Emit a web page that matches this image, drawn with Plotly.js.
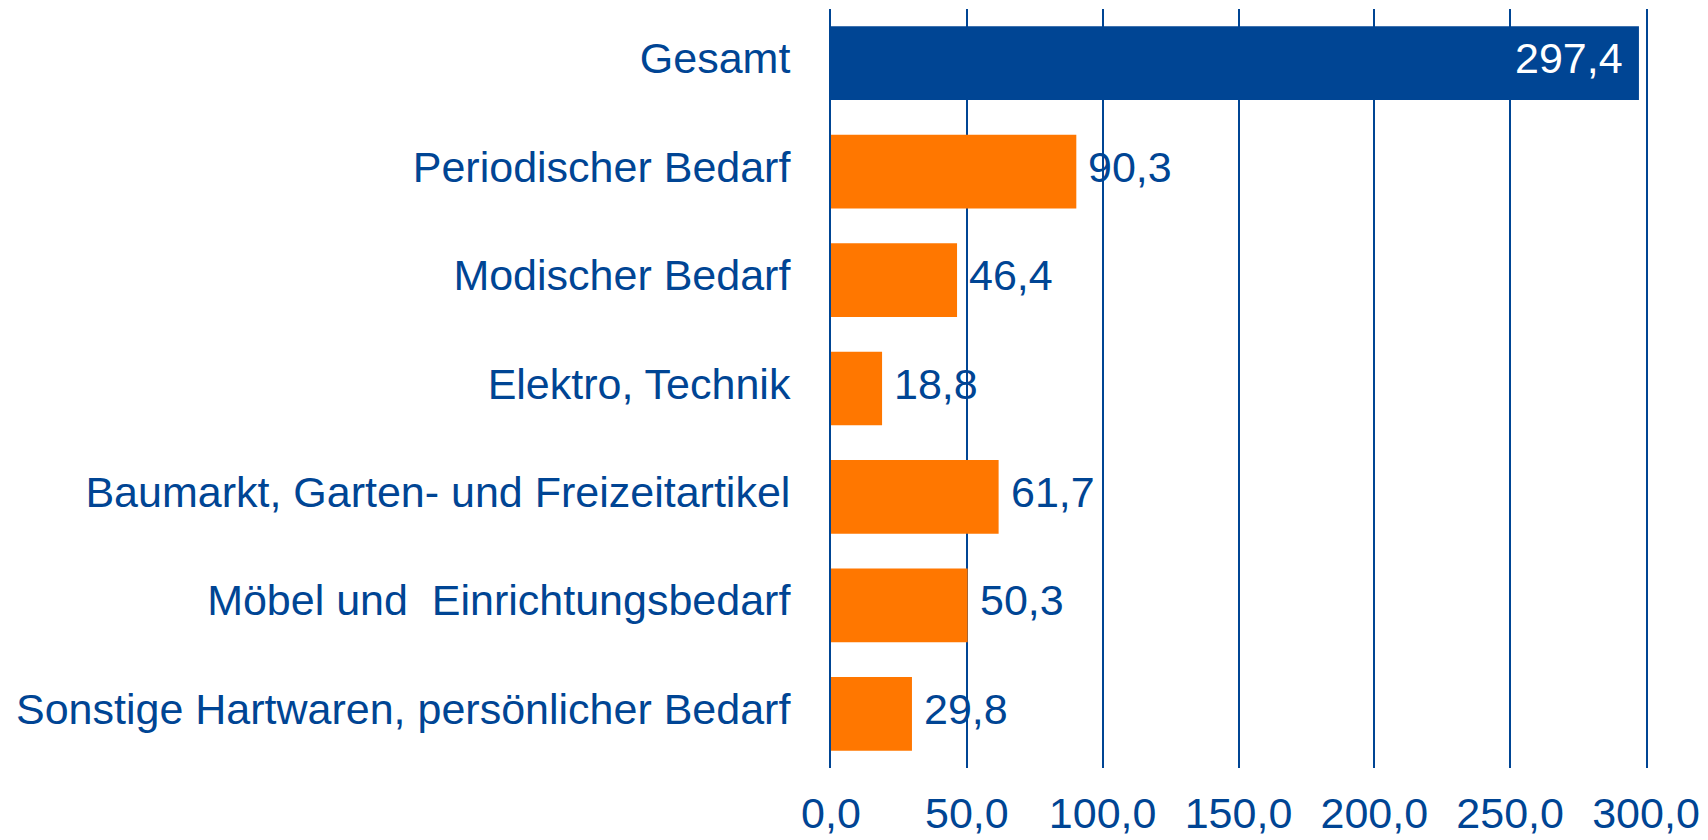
<!DOCTYPE html>
<html>
<head>
<meta charset="utf-8">
<script src="https://cdn.plot.ly/plotly-3.0.1.min.js"></script>
<style>html,body{margin:0;padding:0;background:#fff;}#chart{width:1708px;height:840px;}</style>
</head>
<body>
<div id="chart"></div>
<script>
var categories = [
  "Gesamt",
  "Periodischer Bedarf",
  "Modischer Bedarf",
  "Elektro, Technik",
  "Baumarkt, Garten- und Freizeitartikel",
  "Möbel und  Einrichtungsbedarf",
  "Sonstige Hartwaren, persönlicher Bedarf"
];
var values = [297.4, 90.3, 46.4, 18.8, 61.7, 50.3, 29.8];
var tickValues = [0, 50, 100, 150, 200, 250, 300];

var BLUE = "rgb(0,69,148)";
var ORANGE = "rgb(255,119,0)";
var FONT = "Liberation Sans, Arial, Helvetica, sans-serif";
var FS = 43;

var colors = values.map(function(v, i){ return i === 0 ? BLUE : ORANGE; });

function fmt(v){ return v.toFixed(1).replace(".", ","); }

var annotations = values.map(function(v, i){
  var inside = (i === 0);
  return {
    x: v, y: categories[i], xref: "x", yref: "y",
    text: fmt(v), showarrow: false,
    xanchor: inside ? "right" : "left",
    xshift: inside ? -14 : 10,
    yshift: 5,
    font: {family: FONT, size: FS, color: inside ? "#ffffff" : BLUE}
  };
});

var trace = {
  type: "bar", orientation: "h",
  x: values, y: categories,
  marker: {color: colors},
  hoverinfo: "none"
};

var layout = {
  width: 1708, height: 840,
  margin: {l: 831, r: 62, t: 9, b: 72},
  paper_bgcolor: "#ffffff", plot_bgcolor: "#ffffff",
  separators: ",.",
  bargap: 0.32,
  showlegend: false,
  font: {family: FONT, size: FS, color: BLUE},
  xaxis: {
    range: [0, 300], tickvals: tickValues, tickformat: ".1f",
    showgrid: true, gridcolor: BLUE, gridwidth: 2,
    zeroline: false, showline: false, ticks: "",
    tickfont: {family: FONT, size: FS, color: BLUE},
    ticklabelstandoff: 16,
    fixedrange: true
  },
  yaxis: {
    autorange: "reversed", type: "category",
    showgrid: false, zeroline: false,
    showline: true, mirror: true, linecolor: BLUE, linewidth: 2,
    ticks: "", ticklabelstandoff: 30, ticklabelshift: 5,
    tickfont: {family: FONT, size: FS, color: BLUE},
    fixedrange: true
  },
  annotations: annotations
};

Plotly.newPlot("chart", [trace], layout, {displayModeBar: false, staticPlot: true});
</script>
</body>
</html>
